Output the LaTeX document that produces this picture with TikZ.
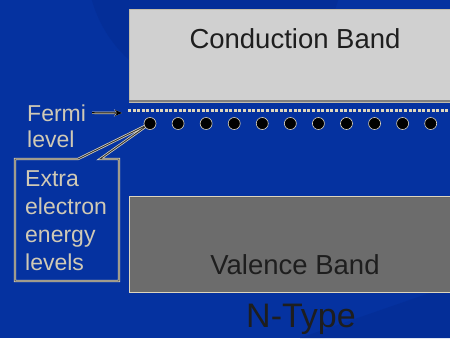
\documentclass[tikz,border=0pt]{standalone}
\usepackage{fontspec}
\setmainfont{Liberation Sans}
\usetikzlibrary{arrows.meta}
\definecolor{bg}{RGB}{5,50,160}
\definecolor{bgdark}{RGB}{4,46,152}
\definecolor{cband}{RGB}{208,208,208}
\definecolor{vband}{RGB}{108,108,108}
\definecolor{cream}{RGB}{222,214,190}
\definecolor{ink}{RGB}{30,30,30}
\begin{document}
\begin{tikzpicture}[x=1pt,y=-1pt,
  bandbox/.style={rectangle, inner sep=0pt, anchor=north west},
  bandlabel/.style={font=\fontsize{27.5}{30}\selectfont, text=ink, anchor=base, inner sep=0pt},
  sidelabel/.style={font=\fontsize{23}{28}\selectfont, text=cream!85!gray, align=left, inner sep=0pt},
  electron/.style={circle, fill=black, draw=cream, line width=0.6pt, minimum size=12pt, inner sep=0pt},
  edgelight/.style={draw=cream, line width=2.4pt},
  edgedark/.style={draw=black!80, line width=0.9pt}]
  % backdrop
  \fill[bg] (0,0) rectangle (450,338);
  \useasboundingbox (0,0) rectangle (450,338);
  \begin{scope}
    \clip (0,0) rectangle (450,338);
    \fill[bgdark] (215,-35) circle (128pt);
    \fill[bgdark] (300,338) -- (450,286) -- (450,338) -- cycle;
  \end{scope}

  % conduction band
  \node[bandbox, fill=cband, draw=cream!70!gray, line width=1.2pt,
        minimum width=330pt, minimum height=93pt] (cb) at (128.5,8.5) {};
  \draw[gray, line width=2pt] (129,100.5) -- (452,100.5);
  \node[bandlabel] (cblabel) at (295,48) {Conduction Band};

  % valence band
  \node[bandbox, fill=vband, draw=cream, line width=1.4pt,
        minimum width=330pt, minimum height=96.5pt] (vb) at (128.5,195.5) {};
  \draw[black!60, line width=1pt] (130,197.5) -- (452,197.5);
  \node[bandlabel] (vblabel) at (295,274) {Valence Band};

  % Fermi level
  \coordinate (fl0) at (128,110.5);
  \coordinate (fl1) at (452,110.5);
  \draw[cream, line width=2.2pt, dash pattern=on 3pt off 1.6pt] (fl0) -- (fl1);

  \node[sidelabel, anchor=base west] (fermi) at (27,121) {Fermi};
  \node[sidelabel, anchor=base west] (level) at (27,147) {level};
  \coordinate (fermitip) at (122,113);
  \draw[cream, line width=2.4pt, -{Stealth[length=8pt,width=7pt]}] ([xshift=6pt]fermi.east) -- (fermitip);
  \draw[black, line width=1.1pt, -{Stealth[length=7pt,width=6pt]}] ([xshift=6pt]fermi.east) -- (fermitip);

  % donor levels
  \foreach \i in {0,...,10}
    \coordinate (p\i) at (150+28.07*\i,123.5);

  % callout
  \coordinate (tip) at (p0);
  \foreach \sty in {edgelight, edgedark}
    \draw[\sty, line join=miter] (78,159) -- (tip) -- (100,159) -- (119,159) -- (119,281) -- (15,281) -- (15,159) -- cycle;
  \node[sidelabel, anchor=north west] (extra) at (25,170.5) {Extra\\electron\\energy\\levels};

  \foreach \i in {0,...,10}
    \node[electron] (d\i) at (p\i) {};

  % caption
  \node[font=\fontsize{34}{36}\selectfont, text=ink, anchor=base, inner sep=0pt] (ntype) at (301,327) {N-Type};
\end{tikzpicture}
\end{document}
